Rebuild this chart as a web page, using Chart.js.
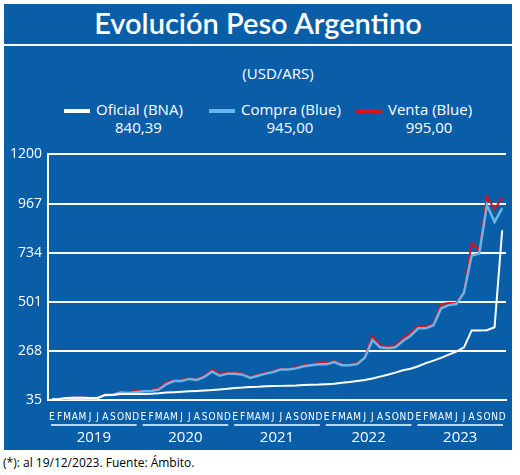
<!DOCTYPE html>
<html><head><meta charset="utf-8">
<script src="https://cdn.jsdelivr.net/npm/chart.js@4"></script>
<style>
body{margin:0;background:#fff;font-family:"Open Sans",sans-serif;}
#box{position:absolute;left:4px;top:4px;width:508px;height:446px;background:#0a5ea8;}
#title{height:40px;border-bottom:2px solid #fff;color:#fff;font-size:29px;font-weight:600;text-align:center;line-height:38px;font-family:"Lato",sans-serif;}
#sub{color:#fff;text-align:center;font-size:15px;margin-top:17px;margin-left:40px;}
#leg{position:absolute;top:96px;left:0;width:508px;color:#fff;font-size:15px;}
.it{position:absolute;text-align:center;line-height:18px;}
.sw{display:inline-block;width:26px;height:4px;vertical-align:middle;margin-right:6px;}
#wrap{position:absolute;left:0;top:136px;width:508px;height:312px;}
#foot{position:absolute;left:3px;top:454px;font-size:12px;color:#000;}
</style></head><body>
<div id="box">
<div id="title">Evolución Peso Argentino</div>
<div id="sub">(USD/ARS)</div>
<div id="leg">
<div class="it" style="left:60px"><span class="sw" style="background:#fff"></span>Oficial (BNA)<br><span style="margin-left:30px">840,39</span></div>
<div class="it" style="left:205px"><span class="sw" style="background:#6ab4e8"></span>Compra (Blue)<br><span style="margin-left:30px">945,00</span></div>
<div class="it" style="left:352px"><span class="sw" style="background:#e0101a"></span>Venta (Blue)<br><span style="margin-left:30px">995,00</span></div>
</div>
<div id="wrap"><canvas id="c"></canvas></div>
</div>
<div id="foot">(*): al 19/12/2023. Fuente: Ámbito.</div>
<script>
const years = ['2019','2020','2021','2022','2023'];
const monthLabels = ['E','F','M','A','M','J','J','A','S','O','N','D'];
const yTicks = [35,268,501,734,967,1200];
const oficial = [39,40,44,46,46,44,45,60,59,63,63,63, 64,65,67,70,72,74,76,78,80,82,85,88,
  92,94,97,98,100,101,102,103,104,106,107,108, 110,112,117,120,125,130,137,146,155,165,176,183,
  195,210,222,235,250,265,285,365,365,366,380,840];
const compra = [37,39,43,45,45,43,44,58,60,70,68,72, 76,78,84,110,125,125,135,130,145,170,150,160,
  160,155,140,150,160,168,180,180,185,195,200,205, 205,215,200,200,205,235,320,285,280,285,315,340,
  375,375,390,470,485,490,545,720,730,960,880,945];
const venta = [38,40,45,47,47,45,46,62,63,74,72,78, 80,82,88,118,130,130,140,135,150,180,158,168,
  165,160,145,155,165,172,185,185,190,200,205,210, 210,220,205,205,210,240,338,295,290,295,325,355,
  385,385,395,490,495,495,550,780,745,1000,940,995];
const pts = a => a.map((v,i)=>({x:i+0.5,y:v}));

const yearPlugin = {
  id:'years',
  afterDraw(ch){
    const ctx=ch.ctx, x=ch.scales.x, b=ch.chartArea.bottom;
    ctx.save();
    ctx.strokeStyle='#fff'; ctx.lineWidth=1.5; ctx.fillStyle='#fff';
    ctx.font='15px "Open Sans"'; ctx.textAlign='center'; ctx.textBaseline='middle';
    years.forEach((y,i)=>{
      const l=x.getPixelForValue(i*12)+3, r=x.getPixelForValue(i*12+12)-3;
      ctx.beginPath(); ctx.moveTo(l,b+25); ctx.lineTo(r,b+25); ctx.stroke();
      ctx.fillText(y,(l+r)/2,b+38);
    });
    ctx.restore();
  }
};

new Chart(document.getElementById('c'),{
  type:'line',
  data:{datasets:[
    {label:'Compra',data:pts(compra),borderColor:'#6ab4e8',borderWidth:2.5,pointRadius:0,tension:0,order:2},
    {label:'Venta',data:pts(venta),borderColor:'#e0101a',borderWidth:2,pointRadius:0,tension:0,order:3},
    {label:'Oficial',data:pts(oficial),borderColor:'#fff',borderWidth:2,pointRadius:0,tension:0,order:1}
  ]},
  options:{
    responsive:true,maintainAspectRatio:false,animation:false,
    layout:{padding:{left:0,right:6,top:8,bottom:26}},
    plugins:{legend:{display:false},tooltip:{enabled:false}},
    scales:{
      x:{type:'linear',min:0,max:60,
        afterBuildTicks:s=>{s.ticks=Array.from({length:60},(_,i)=>({value:i+0.5}));},
        ticks:{color:'#fff',autoSkip:false,maxRotation:0,padding:3,
          font:{family:'"Liberation Sans Narrow", "DejaVu Sans Condensed"',size:10},
          callback:v=>monthLabels[Math.floor(v)%12]},
        grid:{display:false},border:{color:'#fff',width:2}},
      y:{min:35,max:1200,
        afterBuildTicks:s=>{s.ticks=yTicks.map(v=>({value:v}));},
        ticks:{color:'#fff',font:{family:'"Open Sans"',size:14},padding:6,callback:v=>String(v)},
        grid:{color:'#fff',lineWidth:2,drawTicks:false},border:{color:'#fff',width:2}}
    }
  },
  plugins:[yearPlugin]
});
</script>
</body></html>
